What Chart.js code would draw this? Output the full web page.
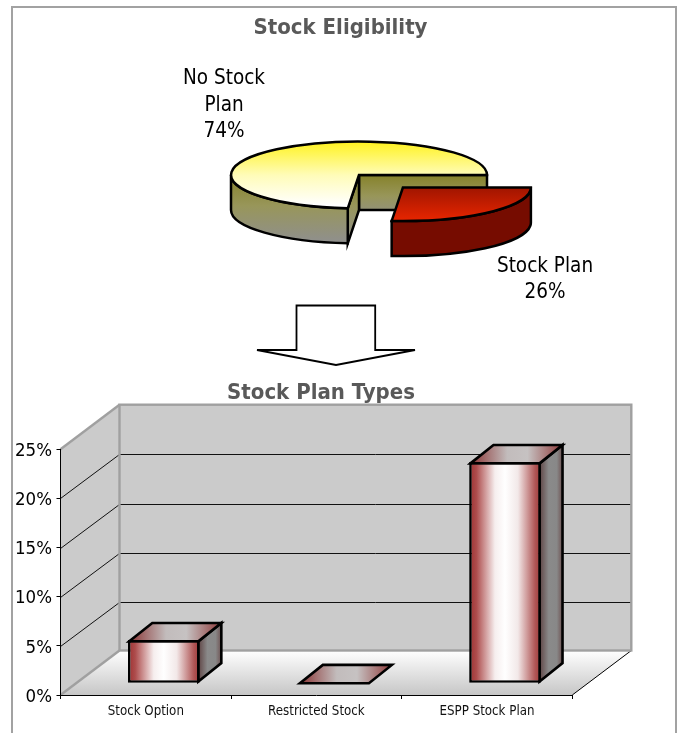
<!DOCTYPE html>
<html>
<head>
<meta charset="utf-8">
<script src="https://cdn.jsdelivr.net/npm/chart.js@4"></script>
<style>
html,body{margin:0;padding:0;background:#fff;width:684px;height:733px;overflow:hidden}
#frame{position:absolute;left:11px;top:6px;width:662px;height:740px;border:2px solid #a2a2a2;box-sizing:content-box}
canvas{position:absolute;left:0}
#arrow{position:absolute;left:0;top:0}
</style>
</head>
<body>
<div id="frame"></div>
<svg id="arrow" width="684" height="733"><polygon points="296.5,305.5 375.2,305.5 375.2,350 415,350 336,365 257,350 296.5,350" fill="#fff" stroke="#000" stroke-width="1.8"/></svg>
<canvas id="pie" width="681" height="304" style="top:0;width:681px;height:304px"></canvas>
<canvas id="bars" width="642" height="363" style="top:370px;width:642px;height:363px"></canvas>
<script>
const pieTitle = 'Stock Eligibility';
const pieLabels = ['No Stock Plan', 'Stock Plan'];
const pieValues = [73.6, 26.4];
const barTitle = 'Stock Plan Types';
const barCategories = ['Stock Option', 'Restricted Stock', 'ESPP Stock Plan'];
const barValues = [4.4, 0, 22.5];

const TEXT_FONT = '"DejaVu Sans Condensed","Noto Sans",sans-serif';

/* ---------- pie ---------- */
const PIE_SCALE = 2, PIE_TILT = 33.5 / 128, PIE_DEPTH = 35, PIE_OFFSET = 130, PIE_SHIFT_X = 18.5;
const share = pieValues[1] / (pieValues[0] + pieValues[1]);

function pieCentre(chart) {
  const a = chart.chartArea;
  return {cx: (a.left + a.right) / 2 + PIE_SHIFT_X, cy: (a.top + a.bottom) / 2};
}
function sliceGeom(chart, arc) {
  const {cx, cy} = pieCentre(chart);
  const off = (arc.options.offset || 0) / 4;
  const mid = (arc.startAngle + arc.endAngle) / 2;
  const ox = cx + PIE_SCALE * off * Math.cos(mid);
  const oy = cy + PIE_SCALE * PIE_TILT * off * Math.sin(mid);
  const rx = arc.outerRadius * PIE_SCALE, ry = rx * PIE_TILT;
  return {ox, oy, rx, ry,
    pt: ang => ({x: ox + rx * Math.cos(ang), y: oy + ry * Math.sin(ang)})};
}
function sideGradient(ctx, y0, y1) {
  const g = ctx.createLinearGradient(0, y0, 0, y1);
  g.addColorStop(0, '#86822a');
  g.addColorStop(0.45, '#98965a');
  g.addColorStop(1, '#8f8f8f');
  return g;
}
const pie3d = {
  id: 'pie3d',
  beforeDatasetsDraw(chart) {
    const ctx = chart.ctx;
    const [big, small] = chart.getDatasetMeta(0).data;
    const b = sliceGeom(chart, big), r = sliceGeom(chart, small);
    const end = big.startAngle;
    const edge = b.pt(end);
    ctx.save();
    ctx.lineWidth = 2.5; ctx.strokeStyle = '#000'; ctx.lineJoin = 'miter'; ctx.miterLimit = 20;
    const grad = sideGradient(ctx, b.oy, b.oy + PIE_DEPTH + 12);
    // inner wall running to the right
    ctx.beginPath();
    ctx.rect(b.ox, b.oy, b.rx, PIE_DEPTH);
    ctx.fillStyle = grad; ctx.fill(); ctx.stroke();
    // inner wall at the cut
    ctx.beginPath();
    ctx.moveTo(b.ox, b.oy); ctx.lineTo(edge.x, edge.y);
    ctx.lineTo(edge.x, edge.y + PIE_DEPTH); ctx.lineTo(b.ox, b.oy + PIE_DEPTH); ctx.closePath();
    ctx.fillStyle = sideGradient(ctx, b.oy, edge.y + PIE_DEPTH); ctx.fill(); ctx.stroke();
    // outer wall
    ctx.beginPath();
    ctx.ellipse(b.ox, b.oy, b.rx, b.ry, 0, end, Math.PI);
    ctx.lineTo(b.ox - b.rx, b.oy + PIE_DEPTH);
    ctx.ellipse(b.ox, b.oy + PIE_DEPTH, b.rx, b.ry, 0, Math.PI, end, true);
    ctx.closePath();
    ctx.fillStyle = sideGradient(ctx, b.oy, b.oy + b.ry + PIE_DEPTH); ctx.fill(); ctx.stroke();
    // red slice wall
    const a0 = 0, a1 = end;
    ctx.beginPath();
    ctx.ellipse(r.ox, r.oy, r.rx, r.ry, 0, a0, a1);
    const q = r.pt(a1);
    ctx.lineTo(q.x, q.y + PIE_DEPTH);
    ctx.ellipse(r.ox, r.oy + PIE_DEPTH, r.rx, r.ry, 0, a1, a0, true);
    ctx.closePath();
    ctx.fillStyle = '#760c00'; ctx.fill(); ctx.stroke();
    ctx.restore();
  },
  beforeDatasetDraw(chart) {
    const a = chart.chartArea, ctx = chart.ctx;
    const acx = (a.left + a.right) / 2, acy = (a.top + a.bottom) / 2;
    ctx.save();
    ctx.translate(acx + PIE_SHIFT_X, acy);
    ctx.scale(PIE_SCALE, PIE_SCALE * PIE_TILT);
    ctx.translate(-acx, -acy);
  },
  afterDatasetDraw(chart) {
    const ctx = chart.ctx;
    ctx.restore();
    ctx.save();
    ctx.lineWidth = 2.5; ctx.strokeStyle = '#000'; ctx.lineJoin = 'miter'; ctx.miterLimit = 20;
    chart.getDatasetMeta(0).data.forEach(arc => {
      const g = sliceGeom(chart, arc);
      ctx.beginPath();
      ctx.moveTo(g.ox, g.oy);
      ctx.ellipse(g.ox, g.oy, g.rx, g.ry, 0, arc.startAngle, arc.endAngle);
      ctx.closePath();
      ctx.stroke();
    });
    ctx.restore();
  },
  afterDraw(chart) {
    const ctx = chart.ctx;
    ctx.save();
    ctx.fillStyle = '#000';
    ctx.font = '20.5px ' + TEXT_FONT;
    ctx.textAlign = 'center'; ctx.textBaseline = 'middle';
    const {cx, cy} = pieCentre(chart);
    const bigLines = ['No Stock', 'Plan', Math.round(pieValues[0]) + '%'];
    bigLines.forEach((t, i) => ctx.fillText(t, cx - 135, cy - 96 + i * 26.5));
    const smallLines = [pieLabels[1], Math.round(pieValues[1]) + '%'];
    smallLines.forEach((t, i) => ctx.fillText(t, cx + 186, cy + 91.5 + i * 26.5));
    ctx.restore();
  }
};

new Chart(document.getElementById('pie'), {
  type: 'pie',
  data: {
    labels: pieLabels,
    datasets: [{
      data: pieValues,
      clip: false,
      borderWidth: 0,
      offset: [0, PIE_OFFSET],
      backgroundColor(c) {
        const a = c.chart.chartArea, ctx = c.chart.ctx;
        if (!a) return '#ffff99';
        const cy = (a.top + a.bottom) / 2;
        const r = (Math.min(a.right - a.left, a.bottom - a.top) - PIE_OFFSET) / 2;
        if (c.dataIndex === 0) {
          const g = ctx.createLinearGradient(0, cy - r, 0, cy + r);
          g.addColorStop(0, '#fff21e');
          g.addColorStop(0.5, '#fffcb8');
          g.addColorStop(0.95, '#ffffff');
          return g;
        }
        const g = ctx.createLinearGradient(0, cy, 0, cy + r);
        g.addColorStop(0, '#a01500');
        g.addColorStop(1, '#e82600');
        return g;
      }
    }]
  },
  options: {
    responsive: false, animation: false, events: [], devicePixelRatio: 1,
    rotation: 90 + 360 * share,
    layout: {padding: 0},
    plugins: {
      legend: {display: false}, tooltip: {enabled: false},
      title: {display: true, text: pieTitle, color: '#595959',
        font: {family: TEXT_FONT, size: 22, weight: 'bold', lineHeight: 1.2},
        padding: {top: 15.3, bottom: 4.3}}
    }
  },
  plugins: [pie3d]
});

/* ---------- bars ---------- */
const WALL_DX = 59, WALL_DY = 44.5, BAR_SHIFT_X = 18, BAR_SHIFT_Y = 11.7, BAR_DX = 23, BAR_DY = 18.4;
const BAR_LINE = 2.6, BAR_FILL = 0.42;

function horizGrad(ctx, l, r, stops) {
  const g = ctx.createLinearGradient(l, 0, r, 0);
  stops.forEach(([p, c]) => g.addColorStop(p, c));
  return g;
}
const walls3d = {
  id: 'walls3d',
  beforeDraw(chart) {
    const ctx = chart.ctx, {x, y} = chart.scales;
    const L = x.left, R = x.right, T = y.top, B = y.bottom;
    ctx.save();
    // floor
    let g = ctx.createLinearGradient(0, B - WALL_DY, 0, B);
    g.addColorStop(0, '#ffffff'); g.addColorStop(1, '#c6c6c6');
    ctx.beginPath();
    ctx.moveTo(L, B); ctx.lineTo(L + WALL_DX, B - WALL_DY); ctx.lineTo(R + WALL_DX, B - WALL_DY); ctx.lineTo(R, B); ctx.closePath();
    ctx.fillStyle = g; ctx.fill();
    ctx.strokeStyle = '#000'; ctx.lineWidth = 1;
    ctx.beginPath(); ctx.moveTo(R, B); ctx.lineTo(R + WALL_DX, B - WALL_DY); ctx.stroke();
    // side wall
    ctx.beginPath();
    ctx.moveTo(L, B); ctx.lineTo(L, T); ctx.lineTo(L + WALL_DX, T - WALL_DY); ctx.lineTo(L + WALL_DX, B - WALL_DY); ctx.closePath();
    ctx.fillStyle = '#cbcbcb'; ctx.fill();
    // back wall
    ctx.fillRect(L + WALL_DX, T - WALL_DY, R - L, B - T);
    // grid lines
    ctx.strokeStyle = '#111'; ctx.lineWidth = 1;
    y.ticks.forEach(t => {
      if (t.value <= y.min || t.value >= y.max) return;
      const py = Math.round(y.getPixelForValue(t.value)) + 0.5;
      const by = Math.round(py - WALL_DY) + 0.5;
      ctx.beginPath();
      ctx.moveTo(L, py); ctx.lineTo(L + WALL_DX, by); ctx.lineTo(R + WALL_DX, by);
      ctx.stroke();
    });
    // wall borders
    ctx.strokeStyle = '#a0a0a0'; ctx.lineWidth = 2.4; ctx.lineJoin = 'miter';
    ctx.strokeRect(L + WALL_DX, T - WALL_DY, R - L, B - T);
    ctx.beginPath(); ctx.moveTo(L, T); ctx.lineTo(L + WALL_DX, T - WALL_DY); ctx.stroke();
    ctx.beginPath(); ctx.moveTo(L, B); ctx.lineTo(L + WALL_DX, B - WALL_DY); ctx.stroke();
    ctx.restore();
  },
  beforeDatasetDraw(chart) {
    const ctx = chart.ctx;
    ctx.save();
    ctx.translate(BAR_SHIFT_X, -BAR_SHIFT_Y);
    // sides and caps under the front face
    ctx.lineWidth = BAR_LINE; ctx.strokeStyle = '#000'; ctx.lineJoin = 'miter'; ctx.miterLimit = 6;
    const inset = BAR_LINE / 2;
    chart.getDatasetMeta(0).data.forEach(b => {
      const tall = b.base - b.y > 0.5;
      const l = b.x - b.width / 2 + inset, r = b.x + b.width / 2 - inset;
      const top = tall ? b.y + inset : b.y, base = tall ? b.base - inset : b.base;
      if (tall) {
        ctx.beginPath();
        ctx.moveTo(r, top); ctx.lineTo(r + BAR_DX, top - BAR_DY);
        ctx.lineTo(r + BAR_DX, base - BAR_DY); ctx.lineTo(r, base); ctx.closePath();
        ctx.fillStyle = horizGrad(ctx, r, r + BAR_DX, [[0, '#5f4545'], [0.4, '#8a8a8a'], [0.75, '#888888'], [1, '#6e5252']]);
        ctx.fill(); ctx.stroke();
      }
      ctx.beginPath();
      ctx.moveTo(l, top); ctx.lineTo(l + BAR_DX, top - BAR_DY);
      ctx.lineTo(r + BAR_DX, top - BAR_DY); ctx.lineTo(r, top); ctx.closePath();
      ctx.fillStyle = horizGrad(ctx, l, r + BAR_DX, [[0, '#8a3434'], [0.4, '#c2bcbc'], [0.62, '#c6c2c2'], [1, '#8f3a3a']]);
      ctx.fill(); ctx.stroke();
    });
  },
  afterDatasetDraw(chart) { chart.ctx.restore(); }
};

new Chart(document.getElementById('bars'), {
  type: 'bar',
  data: {
    labels: barCategories,
    datasets: [{
      data: barValues,
      clip: false,
      categoryPercentage: BAR_FILL,
      barPercentage: 1,
      borderColor: '#000',
      borderWidth: BAR_LINE,
      borderSkipped: false,
      backgroundColor(c) {
        const xs = c.chart.scales.x;
        const fallback = '#dddddd';
        if (!xs || c.dataIndex === undefined) return fallback;
        const w = (xs.right - xs.left) / barCategories.length * BAR_FILL;
        const m = xs.getPixelForValue(c.dataIndex);
        if (!Number.isFinite(w) || !Number.isFinite(m)) return fallback;
        return horizGrad(c.chart.ctx, m - w / 2, m + w / 2, [[0, '#9e3030'], [0.1, '#ad4c4c'], [0.36, '#f6eeee'], [0.5, '#ffffff'], [0.68, '#f2e8e8'], [0.92, '#b05656'], [1, '#a03838']]);
      }
    }]
  },
  options: {
    responsive: false, animation: false, events: [], devicePixelRatio: 1,
    layout: {padding: 0},
    scales: {
      x: {
        offset: true,
        afterFit(s) { s.height = 38; },
        border: {color: '#000', width: 1},
        grid: {drawOnChartArea: false, offset: true, tickLength: 4, tickColor: '#000'},
        ticks: {font: {family: TEXT_FONT, size: 13.2}, color: '#111', padding: 5, maxRotation: 0}
      },
      y: {
        min: 0, max: 25,
        afterFit(s) { s.width = 60.5; },
        border: {color: '#000', width: 1},
        grid: {drawOnChartArea: false, tickLength: 4, tickColor: '#000'},
        ticks: {stepSize: 5, padding: 4.5, labelOffset: 2, color: '#000', font: {family: TEXT_FONT, size: 18.5},
          callback: v => v + '%'}
      },
      reserve: {
        position: 'right',
        afterFit(s) { s.width = 69.7; },
        border: {display: false},
        grid: {display: false},
        ticks: {display: false}
      }
    },
    plugins: {
      legend: {display: false}, tooltip: {enabled: false},
      title: {display: true, text: barTitle, color: '#595959',
        font: {family: TEXT_FONT, size: 22, weight: 'bold', lineHeight: 1.2},
        padding: {top: 9.8, bottom: 43}}
    }
  },
  plugins: [walls3d]
});
</script>
</body>
</html>
